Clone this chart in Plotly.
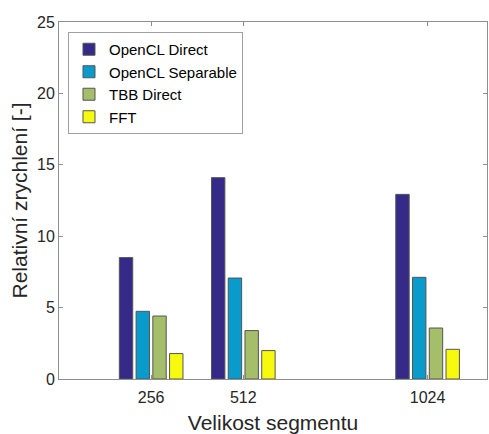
import plotly.graph_objects as go

segments = [256, 512, 1024]
series_names = ["OpenCL Direct", "OpenCL Separable", "TBB Direct", "FFT"]
opencl_direct = [8.5, 14.1, 12.93]
opencl_separable = [4.74, 7.07, 7.12]
tbb_direct = [4.41, 3.39, 3.57]
fft = [1.78, 1.99, 2.08]
colors = ["#352A87", "#0A9BCD", "#A5BE6A", "#F8FA0E"]
y_ticks = [0, 5, 10, 15, 20, 25]

fig = go.Figure()
for name, vals, col in zip(series_names, [opencl_direct, opencl_separable, tbb_direct, fft], colors):
    fig.add_trace(go.Bar(x=segments, y=vals, name=name, marker=dict(color=col, line=dict(color="#555555", width=1))))

font = "Arial, Liberation Sans, Helvetica, sans-serif"
axis_common = dict(showline=True, linecolor="#8f8f8f", linewidth=1, mirror="allticks",
                   ticks="inside", ticklen=4, tickcolor="#8f8f8f", showgrid=False, zeroline=False,
                   automargin=False,
                   tickfont=dict(family=font, size=16, color="#262626"))
fig.update_layout(
    width=489, height=434,
    margin=dict(l=59, r=2, t=22, b=55),
    paper_bgcolor="white", plot_bgcolor="white",
    barmode="group", bargap=0.273, bargroupgap=0.2,
    font=dict(family=font, color="#262626"),
    xaxis=dict(range=[0, 1189], tickvals=segments, ticktext=[str(s) for s in segments],
               ticklabelstandoff=4,
               title=dict(text="Velikost segmentu", font=dict(family=font, size=21, color="#262626"), standoff=12),
               **axis_common),
    yaxis=dict(range=[0, 25], tickvals=y_ticks,
               title=dict(text="Relativní zrychlení [-]", font=dict(family=font, size=21, color="#262626"), standoff=3),
               **axis_common),
    legend=dict(x=0.021, y=0.972, xanchor="left", yanchor="top", bgcolor="white",
                bordercolor="#a0a0a0", borderwidth=1, font=dict(family=font, size=15, color="#000000"),
                tracegroupgap=0, itemwidth=30),
    showlegend=True,
)
fig.write_html("out.html")
